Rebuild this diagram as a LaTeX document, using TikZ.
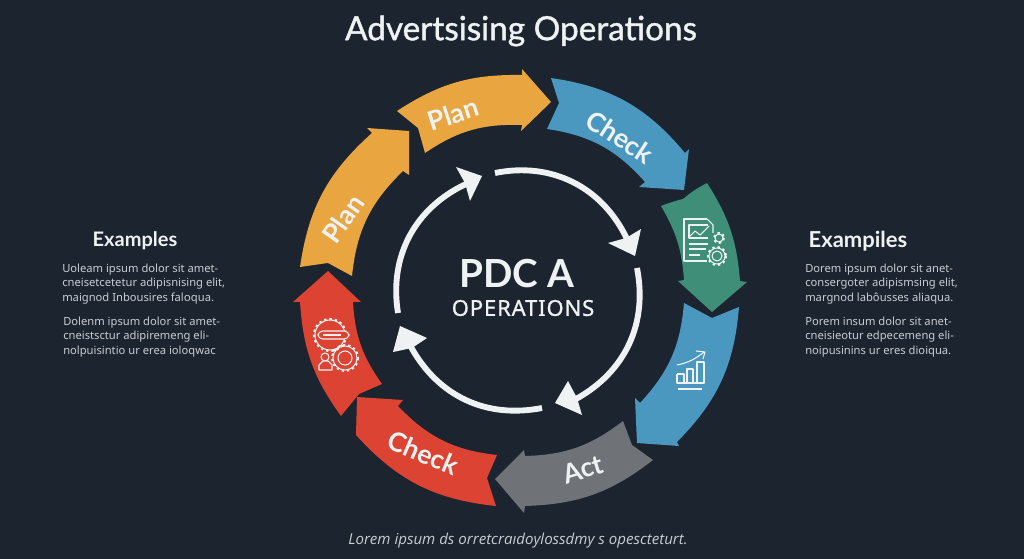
\documentclass[tikz,border=0pt]{standalone}
\usepackage{fontspec}
\setmainfont{Noto Sans}
\newfontfamily\medfont[FakeBold=1.2]{Lato}
\newfontfamily\hdfont{Lato}
\newfontfamily\cenfont{Lato}
\newfontfamily\opsfont[FakeBold=1,LetterSpace=4]{Noto Sans}
\newfontfamily\lblfont{Lato}
\newfontfamily\itfont{Open Sans}
\definecolor{bgc}{RGB}{28,36,47}
\definecolor{orangec}{RGB}{233,166,64}
\definecolor{bluec}{RGB}{74,152,191}
\definecolor{greenc}{RGB}{62,142,120}
\definecolor{greyc}{RGB}{111,115,120}
\definecolor{redc}{RGB}{220,67,50}
\definecolor{whitec}{RGB}{238,242,243}
\definecolor{bodyc}{RGB}{200,205,210}
\tikzset{
  out/.style={bend left=#1},
  back/.style={bend right=#1},
  ringline/.style={draw=whitec,line width=4.4pt},
  ringhead/.style={fill=whitec},
  lbl/.style={text=whitec,font=\lblfont\bfseries\fontsize{20}{22}\selectfont},
  exhead/.style={text=whitec,font=\hdfont\bfseries\fontsize{15}{17}\selectfont},
  bodyt/.style={text=bodyc,font=\fontsize{8.4}{10.6}\selectfont,align=left,anchor=west,inner sep=0pt},
  ico/.style={draw=whitec,line width=0.8pt,line join=round},
  teeth/.style={draw=whitec,line width=1.6pt,dash pattern=on 1.8pt off 2.2pt},
}
\newcommand{\gearicon}[4]{% x,y,radius,inner radius
  \draw[ico] (#1,#2) circle[radius=#3];
  \draw[teeth] (#1,#2) circle[radius=#3+1];
  \ifnum#4>0 \draw[ico] (#1,#2) circle[radius=#4];\fi
}
\begin{document}
\begin{tikzpicture}[x=0.75pt,y=-0.75pt]
\useasboundingbox (0,0) rectangle (1024,559);
\fill[bgc] (0,0) rectangle (1024,559);

% Plan (top)
\fill[orangec] (397,111) -- (418,128) -- (425,153) to[out=18] (522,125) -- (521,131) -- (551,102) -- (522,69) -- (522,75) to[back=17] (397,111) -- cycle;
% Plan (left)
\fill[orangec] (300,267) -- (328,263) -- (352,276) to[out=20] (403,171) -- (409,175) -- (409,131) -- (367,128) -- (372,133) to[back=20] (300,267) -- cycle;
% Check (top)
\fill[bluec] (551,78) -- (559,103) -- (547,129) to[out=20] (645,182) -- (639,187) -- (684,190) -- (689,149) -- (685,153) to[back=21] (551,78) -- cycle;
% Green
\fill[greenc] (707,183) to[back=6] (683,199) to[back=4] (661,206) to[out=13] (684,280) -- (678,281) -- (712,312) -- (747,282) -- (740,281) to[back=14] (707,183) -- cycle;
% Blue lower
\fill[bluec] (739,307) -- (712,318) -- (684,303) to[out=19] (640,403) -- (635,398) -- (637,443) -- (679,446) -- (677,442) to[back=20] (739,307) -- cycle;
% Act
\fill[greyc] (623,421) -- (632,445) -- (653,460) to[out=18] (525,506) -- (524,513) -- (495,479) -- (524,450) -- (525,456) to[back=18] (623,421) -- cycle;
% Check (bottom)
\fill[redc] (497,455) -- (487,478) -- (496,506) to[out=21] (356,435) -- (357,397) -- (403,400) -- (398,406) to[back=20] (497,455) -- cycle;
% Red
\fill[redc] (382,384) -- (359,394) -- (341,416) to[out=16] (300,302) -- (293,302) -- (328,271) -- (361,302) -- (353,302) to[back=16] (382,384) -- cycle;

% Inner ring
\coordinate (ra) at (495,173); \coordinate (rb) at (627,239);
\coordinate (rc) at (637,268); \coordinate (rd) at (576,399);
\coordinate (re) at (542,408); \coordinate (rf) at (411,347);
\coordinate (rg) at (398,313); \coordinate (rh) at (466,184);
\draw[ringline] (ra) to[out=38] (rb);
\draw[ringline] (rc) to[out=36] (rd);
\draw[ringline] (re) to[out=36] (rf);
\draw[ringline] (rg) to[out=37] (rh);
\fill[ringhead] (641,229) -- (626,238) -- (608,243) -- (635,256) -- cycle;
\fill[ringhead] (568,381) -- (577,398) -- (582,415) -- (555,403) -- cycle;
\fill[ringhead] (427,338) -- (412,348) -- (393,352) -- (400,326) -- cycle;
\fill[ringhead] (456,167) -- (465,183) -- (470,201) -- (482,176) -- cycle;

% Labels on arrows
\node[lbl,rotate=18] (lplan1) at (453,114) {Plan};
\node[lbl,rotate=55] (lplan2) at (343,219) {Plan};
\node[lbl,rotate=-33] (lcheck1) at (620,137) {Check};
\node[lbl,rotate=17] (lact) at (583,469) {Act};
\node[lbl,rotate=-23] (lcheck2) at (423,453) {Check};

% Centre
\node[text=whitec,font=\cenfont\bfseries\fontsize{29}{32}\selectfont] (pdca) at (517,274) {PDC A};
\node[text=whitec,font=\opsfont\fontsize{16.5}{18}\selectfont] (ops) at (523,308) {OPERATIONS};

% Title and foot
\node[text=whitec,font=\medfont\fontsize{25}{30}\selectfont] (title) at (521,31) {Advertsising Operations};
\node[text=bodyc,font=\itfont\itshape\fontsize{11.3}{13}\selectfont] (foot) at (518,541) {Lorem ipsum ds orretcraıdoylossdmy s opescteturt.};

% Side text
\node[exhead] (exl) at (135,241) {Examples};
\node[bodyt] (tl1) at (62,284) {Uoleam ipsum dolor sit amet-\\cneisetcetetur adipisnising elit,\\maignod Inbousires falᴏqua.};
\node[bodyt] (tl2) at (63,337) {Dolenm ipsum dolor sit amet-\\cneistsctur adipiremeng eli-\\nolpuisintio ur erea ioloqwac};
\node[exhead,font=\hdfont\bfseries\fontsize{16.5}{18}\selectfont] (exr) at (858,241) {Exampiles};
\node[bodyt] (tr1) at (805,284) {Dorem ipsum dolor sit anet-\\consergoter adipismsing elit,\\margnod labôusses aliaqua.};
\node[bodyt] (tr2) at (805,337) {Porem insum dolor sit anet-\\cneisieotur edpecemeng eli-\\noipusinins ur eres dioiqua.};

% Icon: document
\draw[ico] (707,219) -- (684,219) -- (684,261) -- (707,261);
\draw[ico] (707,219) -- (713,225) -- (713,233);
\draw[ico] (708,225) -- (689,225) -- (689,238) -- (708,238);
\draw[ico] (689,237) -- (695,231) -- (700,235) -- (709,226);
\draw[ico] (689,244) -- (708,244);
\draw[ico] (689,249) -- (706,249);
\draw[ico] (689,255) -- (700,255);
\gearicon{719}{238}{4}{0}
\gearicon{717}{256}{8}{5}

% Icon: bars
\draw[ico] (677,365) .. controls (688,363) and (697,358) .. (704,352);
\draw[ico] (696,351) -- (705,352) -- (703,359);
\draw[ico] (677,374) -- (677,383) -- (704,383) -- (704,362) -- (697,362) -- (697,383);
\draw[ico] (677,374) -- (684,374) -- (684,383);
\draw[ico] (687,383) -- (687,369) -- (693,369) -- (693,383);
\draw[ico] (678,389) -- (702,389);

% Icon: gears and person
\gearicon{330}{335}{15}{0}
\draw[ico,fill=redc,rounded corners=3.5pt] (318,331) rectangle (349,339);
\draw[ico] (323,335) -- (341,335);
\gearicon{345}{358}{12}{7}
\draw[ico] (325,357) circle[radius=4];
\draw[ico,fill=redc] (319,370) -- (319,365) -- (323,361) -- (328,361) -- (332,365) -- (332,370) -- cycle;
\end{tikzpicture}
\end{document}
